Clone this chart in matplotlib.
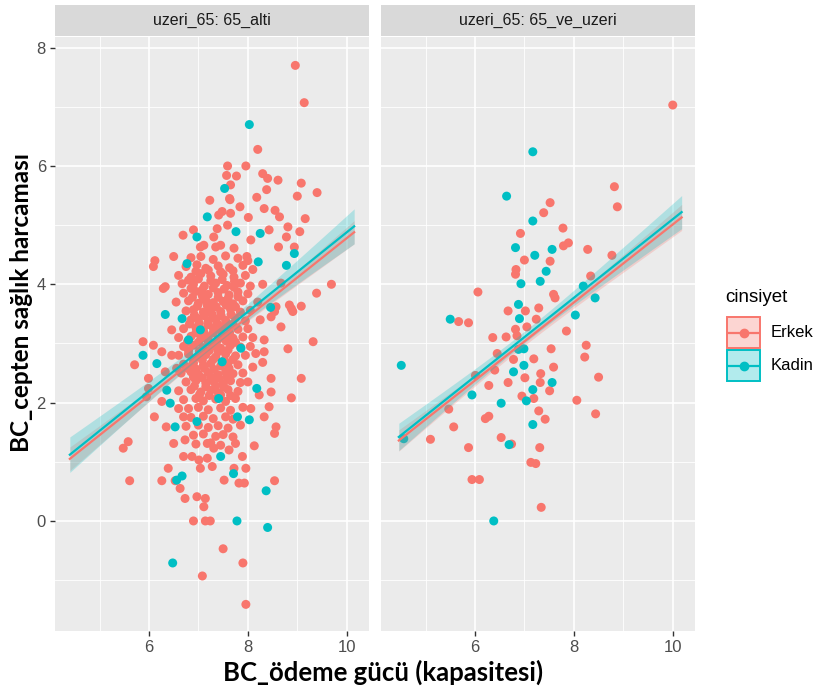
import numpy as np
import matplotlib
matplotlib.use("Agg")
import matplotlib.pyplot as plt
from matplotlib.patches import Rectangle
from matplotlib.lines import Line2D

# ---------------- data ----------------
facet_labels = ["uzeri_65: 65_alti", "uzeri_65: 65_ve_uzeri"]
groups = ["Erkek", "Kadin"]
colors = {"Erkek": "#F8766D", "Kadin": "#00BFC4"}
x_ticks = [6, 8, 10]
y_ticks = [0, 2, 4, 6, 8]

left_erkek = [
    (8.96, 7.70), (9.14, 7.07), (8.20, 6.28), (7.59, 6.00), (7.96, 6.00), (7.57, 5.84), (7.77, 5.83),
    (8.30, 5.87), (8.40, 5.79), (8.61, 5.76), (9.08, 5.71), (9.40, 5.55), (9.00, 5.49), (8.38, 5.60),
    (7.23, 5.42), (7.64, 5.43), (8.18, 5.47), (7.84, 5.31), (8.33, 5.28), (8.55, 5.25), (8.64, 5.14),
    (7.41, 5.17), (7.65, 5.20), (8.01, 5.13), (9.16, 5.11), (6.90, 4.92), (6.69, 4.83), (8.43, 4.92),
    (8.81, 4.97), (9.05, 4.89), (8.78, 4.80), (8.06, 4.75), (7.31, 4.80), (7.04, 4.63), (7.45, 4.66),
    (7.72, 4.61), (7.98, 4.47), (8.62, 4.63), (8.94, 4.63), (6.50, 4.47), (6.09, 4.30), (6.12, 4.40),
    (6.29, 3.93), (9.69, 4.00), (9.39, 3.85), (8.67, 4.02), (9.08, 3.63), (8.88, 3.59), (8.57, 3.62),
    (8.67, 3.28), (7.65, 5.68), (7.63, 5.45), (7.48, 5.23), (7.38, 4.94), (7.59, 5.00), (7.11, 4.66),
    (7.35, 4.63), (6.33, 3.96), (6.67, 4.01), (6.46, 3.23), (5.88, 3.03), (6.09, 2.97), (6.26, 2.86),
    (5.71, 2.64), (6.46, 2.80), (6.56, 2.58), (5.99, 2.41), (6.33, 2.52), (5.99, 2.24), (6.26, 2.02),
    (5.95, 2.10), (6.60, 1.90), (6.11, 1.76), (6.70, 1.76), (6.35, 1.59), (5.58, 1.34), (5.48, 1.23),
    (6.50, 1.31), (6.73, 1.37), (7.18, 1.31), (8.13, 1.27), (7.31, 1.23), (7.62, 1.20), (6.70, 1.09),
    (6.87, 1.09), (7.01, 1.03), (7.18, 1.06), (7.89, 1.09), (6.39, 0.89), (7.04, 0.89), (7.28, 0.92),
    (7.72, 0.89), (7.96, 0.89), (5.61, 0.68), (6.26, 0.68), (6.63, 0.55), (7.52, 0.69), (7.82, 0.64),
    (7.93, 0.64), (8.54, 0.68), (6.73, 0.38), (6.97, 0.41), (7.14, 0.38), (7.11, 0.24), (6.90, 0.00),
    (7.14, 0.00), (7.24, 0.00), (7.50, -0.47), (7.90, -0.71), (7.08, -0.93), (7.96, -1.41), (6.53, 0.68),
    (8.84, 3.65), (8.91, 3.54), (8.54, 3.54), (8.47, 3.45), (9.32, 3.03), (8.81, 2.91), (8.33, 3.06),
    (8.33, 2.86), (8.16, 2.83), (8.30, 2.68), (8.47, 2.41), (9.08, 2.41), (8.47, 2.18), (8.88, 2.08),
    (8.23, 2.13), (8.43, 1.93), (8.33, 1.76), (8.57, 1.59), (8.06, 1.90), (8.54, 1.48),
    # dense core
    (6.85, 4.45), (7.05, 4.47), (7.30, 4.42), (7.55, 4.48), (7.80, 4.44), (8.00, 4.40),
    (6.75, 4.30), (6.97, 4.33), (7.15, 4.27), (7.40, 4.31), (7.63, 4.28), (7.90, 4.32), (8.10, 4.25),
    (6.60, 4.15), (6.85, 4.12), (7.05, 4.18), (7.25, 4.14), (7.50, 4.17), (7.72, 4.12), (7.95, 4.15),
    (6.90, 4.00), (7.12, 3.97), (7.35, 4.02), (7.58, 3.98), (7.85, 4.02), (8.05, 3.97), (8.30, 4.00),
    (6.70, 3.85), (6.95, 3.88), (7.20, 3.83), (7.40, 3.86), (7.62, 3.82), (7.80, 3.87), (8.00, 3.84),
    (6.55, 3.70), (6.80, 3.72), (7.00, 3.68), (7.15, 3.73), (7.30, 3.69), (7.50, 3.71), (7.70, 3.67),
    (7.90, 3.72), (8.20, 3.70), (6.75, 3.55), (6.90, 3.57), (7.10, 3.53), (7.25, 3.56), (7.45, 3.54),
    (7.65, 3.58), (7.85, 3.53), (8.05, 3.56), (6.85, 3.40), (7.00, 3.42), (7.20, 3.38), (7.35, 3.41),
    (7.55, 3.39), (7.75, 3.43), (7.95, 3.38), (8.25, 3.40), (6.70, 3.25), (6.95, 3.27), (7.10, 3.23),
    (7.30, 3.26), (7.45, 3.22), (7.60, 3.27), (7.80, 3.24), (8.00, 3.25), (6.60, 3.10), (6.85, 3.12),
    (7.05, 3.08), (7.20, 3.11), (7.40, 3.07), (7.55, 3.12), (7.70, 3.09), (7.90, 3.11), (8.10, 3.10),
    (6.70, 2.95), (6.90, 2.97), (7.10, 2.93), (7.30, 2.96), (7.45, 2.92), (7.65, 2.97), (7.85, 2.94),
    (8.05, 2.95), (6.60, 2.80), (6.80, 2.82), (7.00, 2.78), (7.15, 2.81), (7.35, 2.77), (7.55, 2.82),
    (7.75, 2.79), (7.95, 2.80), (6.70, 2.65), (6.90, 2.67), (7.10, 2.63), (7.25, 2.66), (7.45, 2.62),
    (7.60, 2.67), (7.80, 2.64), (8.10, 2.60), (6.65, 2.50), (6.85, 2.52), (7.00, 2.48), (7.20, 2.51),
    (7.40, 2.47), (7.55, 2.52), (7.70, 2.49), (7.90, 2.50), (6.75, 2.35), (6.95, 2.37), (7.15, 2.33),
    (7.30, 2.36), (7.50, 2.32), (7.65, 2.37), (7.85, 2.34), (8.00, 2.35), (6.60, 2.20), (6.85, 2.22),
    (7.05, 2.18), (7.25, 2.21), (7.40, 2.17), (7.60, 2.22), (7.80, 2.19), (6.70, 2.05), (6.95, 2.07),
    (7.10, 2.03), (7.35, 2.06), (7.55, 2.02), (7.75, 2.07), (6.80, 1.90), (7.00, 1.92), (7.20, 1.88),
    (7.45, 1.91), (7.65, 1.87), (7.90, 1.92), (6.85, 1.75), (7.10, 1.77), (7.30, 1.73), (7.55, 1.76),
    (7.70, 1.72), (6.75, 1.60), (7.00, 1.62), (7.20, 1.58), (7.40, 1.61), (7.60, 1.57), (7.85, 1.62),
    (6.90, 1.45), (7.10, 1.47), (7.35, 1.43), (7.50, 1.46), (7.70, 1.42), (6.95, 1.30), (7.25, 1.32),
    (7.45, 1.28), (7.75, 1.31),
    # extra overlap in the densest part of the core
    (6.95, 4.22), (7.20, 4.24), (7.45, 4.21), (7.70, 4.23), (6.80, 4.07), (7.00, 4.09), (7.25, 4.06),
    (7.48, 4.08), (7.73, 4.05), (6.85, 3.93), (7.08, 3.91), (7.30, 3.94), (7.52, 3.92), (7.72, 3.95),
    (6.88, 3.78), (7.08, 3.80), (7.40, 3.78), (7.60, 3.76), (7.80, 3.79), (6.98, 3.63), (7.18, 3.64),
    (7.36, 3.62), (7.56, 3.65), (7.75, 3.62), (6.92, 3.48), (7.12, 3.47), (7.28, 3.49), (7.46, 3.47),
    (7.66, 3.49), (6.82, 3.33), (7.02, 3.34), (7.20, 3.32), (7.38, 3.34), (7.54, 3.32), (7.70, 3.33),
    (6.95, 3.18), (7.12, 3.17), (7.30, 3.18), (7.48, 3.16), (7.63, 3.18), (6.78, 3.03), (7.00, 3.02),
    (7.20, 3.03), (7.36, 3.01), (7.56, 3.04), (7.75, 3.02), (6.80, 2.88), (7.02, 2.87), (7.22, 2.88),
    (7.40, 2.86), (7.60, 2.89), (6.90, 2.73), (7.08, 2.72), (7.30, 2.73), (7.52, 2.71), (7.70, 2.73),
    (6.78, 2.58), (6.95, 2.57), (7.12, 2.58), (7.32, 2.56), (7.62, 2.58), (6.90, 2.43), (7.08, 2.42),
    (7.25, 2.43), (7.42, 2.41), (7.58, 2.43), (6.92, 2.28), (7.15, 2.27), (7.35, 2.28), (7.52, 2.26),
    (7.02, 2.13), (7.22, 2.12), (7.45, 2.13), (7.65, 2.12),
]
left_kadin = [
    (8.03, 6.70), (7.53, 5.62), (7.18, 5.14), (6.97, 4.80), (7.76, 4.89), (8.25, 4.86), (8.94, 4.52),
    (6.77, 4.35), (8.21, 4.38), (8.78, 4.32), (8.46, 3.61), (6.33, 3.49), (6.67, 3.42), (6.80, 3.06),
    (7.04, 3.23), (5.88, 2.80), (6.16, 2.66), (7.48, 2.69), (6.36, 2.21), (6.43, 1.99), (6.53, 1.59),
    (6.97, 1.68), (7.86, 2.92), (7.41, 2.07), (7.79, 1.76), (8.03, 1.71), (7.45, 1.09), (6.56, 0.69),
    (6.67, 0.76), (7.71, 0.80), (8.37, 0.51), (7.78, 0.00), (8.40, -0.11), (6.48, -0.71), (8.18, 2.24),
]
right_erkek = [
    (10.00, 7.03), (8.82, 5.65), (8.88, 5.31), (7.52, 5.38), (7.39, 5.21), (7.78, 4.95), (6.92, 4.86),
    (7.89, 4.70), (7.79, 4.65), (8.28, 4.59), (8.77, 4.49), (7.00, 4.41), (7.52, 4.39), (6.83, 4.25),
    (6.82, 4.17), (8.34, 4.14), (6.06, 3.87), (7.59, 3.83), (7.62, 3.77), (7.29, 3.60), (6.67, 3.55),
    (7.02, 3.55), (7.24, 3.41), (5.67, 3.37), (5.87, 3.35), (7.05, 3.28), (6.82, 3.24), (6.36, 3.10),
    (6.63, 3.11), (7.85, 3.21), (6.85, 3.13), (7.54, 2.91), (8.25, 2.97), (8.22, 2.77), (6.45, 2.83),
    (6.78, 2.73), (7.19, 2.74), (7.59, 2.60), (6.40, 2.55), (6.01, 2.46), (7.33, 2.49), (8.50, 2.43),
    (7.01, 2.42), (7.32, 2.34), (6.67, 2.34), (6.28, 2.29), (7.51, 2.20), (6.95, 2.11), (7.19, 2.07),
    (8.06, 2.04), (5.47, 1.89), (7.29, 1.86), (6.28, 1.77), (6.21, 1.73), (8.44, 1.81), (7.42, 1.72),
    (5.57, 1.59), (5.10, 1.38), (6.53, 1.41), (6.74, 1.30), (7.31, 1.24), (5.87, 1.24), (7.13, 0.99),
    (7.23, 0.97), (5.94, 0.70), (6.09, 0.70), (7.34, 0.23),
]
right_kadin = [
    (7.17, 6.24), (6.64, 5.49), (7.17, 5.07), (6.82, 4.62), (7.56, 4.59), (7.21, 4.49), (7.44, 4.22),
    (7.32, 4.05), (6.93, 4.01), (8.19, 3.97), (8.43, 3.77), (6.88, 3.66), (6.90, 3.42), (5.50, 3.41),
    (8.03, 3.48), (6.99, 2.91), (6.88, 2.90), (6.99, 2.63), (4.51, 2.63), (6.78, 2.52), (7.56, 2.34),
    (7.17, 2.22), (5.94, 2.13), (7.04, 2.03), (6.53, 1.99), (7.17, 1.63), (4.56, 1.39), (6.69, 1.29),
    (6.38, 0.00),
]
points = [
    {"Erkek": left_erkek, "Kadin": left_kadin},
    {"Erkek": right_erkek, "Kadin": right_kadin},
]

# fitted lines: x ends, y ends, band half-width at ends and at centre
fit_x = [[4.40, 10.15], [4.46, 10.18]]
fit_y = [
    {"Erkek": [1.05, 4.88], "Kadin": [1.12, 4.98]},
    {"Erkek": [1.36, 5.13], "Kadin": [1.42, 5.22]},
]
fit_center = [7.3, 7.0]
band_end = [{"Erkek": 0.20, "Kadin": 0.30}, {"Erkek": 0.22, "Kadin": 0.28}]
band_mid = [{"Erkek": 0.05, "Kadin": 0.12}, {"Erkek": 0.07, "Kadin": 0.10}]

# ---------------- layout ----------------
W, H = 815, 691
fig = plt.figure(figsize=(W / 100, H / 100), dpi=100)
fig.patch.set_facecolor("white")

panel_px = [(55, 369), (381, 695)]
ptop, pbot = 37, 631
strip_top = 5
xlim = (4.1, 10.45)
ylim = (-1.86, 8.18)

def fx(px):
    return px / W

def fy(py):
    return 1 - py / H

for i, (l, r) in enumerate(panel_px):
    ax = fig.add_axes([fx(l), fy(pbot), (r - l) / W, (pbot - ptop) / H])
    ax.set_facecolor("#EBEBEB")
    for s in ax.spines.values():
        s.set_visible(False)
    ax.set_xlim(*xlim)
    ax.set_ylim(*ylim)
    ax.set_xticks(x_ticks)
    ax.set_xticks([5, 7, 9], minor=True)
    ax.set_yticks(y_ticks)
    ax.set_yticks([-1, 1, 3, 5, 7], minor=True)
    ax.grid(True, which="major", color="white", lw=1.2, zorder=0)
    ax.grid(True, which="minor", color="white", lw=0.6, zorder=0)
    ax.set_axisbelow(True)
    ax.tick_params(which="major", length=3.5, width=1, color="#333333",
                   labelsize=12, labelcolor="#4D4D4D", pad=3)
    ax.tick_params(which="minor", length=0)
    for lab in ax.get_xticklabels() + ax.get_yticklabels():
        lab.set_fontfamily("Liberation Sans")
    if i == 1:
        ax.tick_params(axis="y", which="both", left=False, labelleft=False)

    # points
    for g in groups:
        pts = np.array(points[i][g])
        ax.scatter(pts[:, 0], pts[:, 1], s=42, color=colors[g], edgecolors="none", zorder=3)

    # smooth lines with confidence bands
    for g in groups:
        x0, x1 = fit_x[i]
        y0, y1 = fit_y[i][g]
        xs = np.linspace(x0, x1, 60)
        ys = y0 + (y1 - y0) * (xs - x0) / (x1 - x0)
        xc = fit_center[i]
        hm, he = band_mid[i][g], band_end[i][g]
        k = np.sqrt(max(he ** 2 - hm ** 2, 0)) / max(abs(x1 - xc), abs(x0 - xc))
        hw = np.sqrt(hm ** 2 + (k * (xs - xc)) ** 2)
        ax.fill_between(xs, ys - hw, ys + hw, color=colors[g], alpha=0.25, lw=0, zorder=4)
    for g in groups:
        ax.plot(fit_x[i], fit_y[i][g], color=colors[g], lw=1.6, zorder=5)

    # strip
    sax = fig.add_axes([fx(l), fy(ptop - 1), (r - l) / W, (ptop - 1 - strip_top) / H])
    sax.set_facecolor("#D9D9D9")
    sax.set_xticks([]); sax.set_yticks([])
    for s in sax.spines.values():
        s.set_visible(False)
    sax.text(0.5, 0.5, facet_labels[i], ha="center", va="center", fontsize=11.5,
             color="#1A1A1A", family="Liberation Sans", transform=sax.transAxes)

# axis titles
fig.text(fx(383), fy(672), "BC_ödeme gücü (kapasitesi)", ha="center", va="center",
         fontsize=18.5, fontweight="bold", family="Lato", color="black")
fig.text(fx(22), fy(303), "BC_cepten sağlık harcaması", ha="center", va="center",
         rotation=90, fontsize=17.5, fontweight="bold", family="Lato", color="black")

# legend
fig.text(fx(725), fy(297), "cinsiyet", ha="left", va="center", fontsize=13.5,
         family="Liberation Sans", color="black")
key_rows = [(317, 348), (350, 381)]
for g, (t, b) in zip(groups, key_rows):
    kx0, kx1 = 727, 760
    rect = Rectangle((fx(kx0), fy(b)), (kx1 - kx0) / W, (b - t) / H, transform=fig.transFigure,
                     facecolor=colors[g], alpha=0.3, edgecolor="none")
    fig.patches.append(rect)
    rect2 = Rectangle((fx(kx0), fy(b)), (kx1 - kx0) / W, (b - t) / H, transform=fig.transFigure,
                      facecolor="none", edgecolor=colors[g], lw=1.4)
    fig.patches.append(rect2)
    cy = fy((t + b) / 2)
    fig.lines.append(Line2D([fx(kx0 + 2), fx(kx1 - 2)], [cy, cy], transform=fig.transFigure,
                            color=colors[g], lw=1.6))
    fig.lines.append(Line2D([fx((kx0 + kx1) / 2)], [cy], transform=fig.transFigure,
                            marker="o", markersize=6, color=colors[g], lw=0))
    fig.text(fx(771), cy, g, ha="left", va="center", fontsize=12,
             family="Liberation Sans", color="black")

fig.savefig("out.png", dpi=100, facecolor="white")
